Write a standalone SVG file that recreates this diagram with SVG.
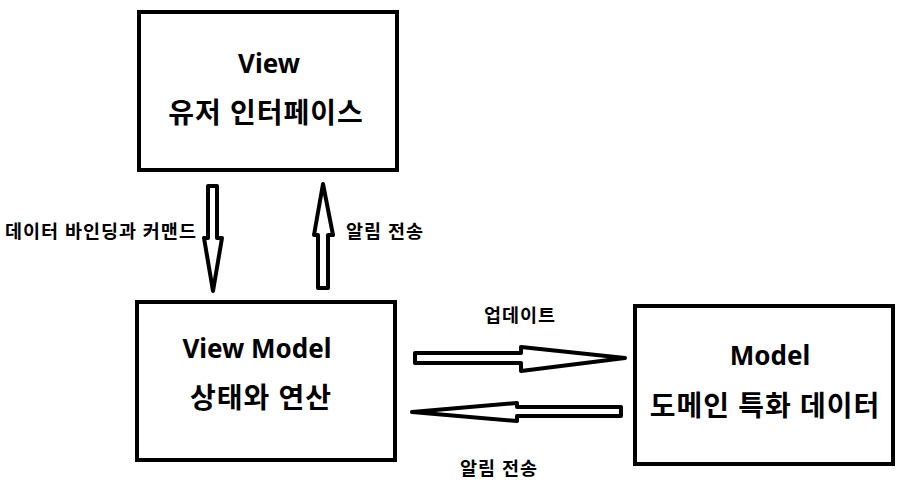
<svg xmlns="http://www.w3.org/2000/svg" width="910" height="484" viewBox="0 0 910 484">
<style>
.box{fill:#fff;stroke:#000;stroke-width:4}
.arr{fill:#fff;stroke:#000;stroke-width:4;stroke-linejoin:round}
.t{font-family:"Noto Sans","Noto Sans CJK KR",sans-serif;font-weight:bold;fill:#000;text-anchor:middle}
.big{font-size:26px}
.ko{font-size:28px;letter-spacing:1px}
.sm{font-size:18.5px;letter-spacing:1px}
</style>
<rect width="910" height="484" fill="#fff"/>
<g id="view">
<rect class="box" x="139" y="12" width="258" height="158"/>
<text class="t big" x="269" y="73">View</text>
<text class="t ko" x="266" y="123">유저 인터페이스</text>
</g>
<g id="viewmodel">
<rect class="box" x="137" y="302" width="258" height="158"/>
<text class="t big" x="257" y="358">View Model</text>
<text class="t ko" x="261" y="408">상태와 연산</text>
</g>
<g id="model">
<rect class="box" x="635" y="306" width="258" height="158"/>
<text class="t big" x="770" y="365">Model</text>
<text class="t ko" x="765" y="416">도메인 특화 데이터</text>
</g>
<g id="connectors">
<polygon class="arr" points="208,186 217,186 217,238 222,238 213,291 204,238 208,238"/>
<polygon class="arr" points="323,184 333,235 328,235 328,288 318,288 318,235 314,235"/>
<polygon class="arr" points="415,353 521,353 521,347 625,358 521,371 521,363 415,363"/>
<polygon class="arr" points="412,412 517,403 517,407 621,407 621,416 517,416 517,421"/>
<text class="t sm" x="101" y="238">데이터 바인딩과 커맨드</text>
<text class="t sm" x="385" y="238">알림 전송</text>
<text class="t sm" x="520" y="322">업데이트</text>
<text class="t sm" x="499" y="475">알림 전송</text>
</g>
</svg>
